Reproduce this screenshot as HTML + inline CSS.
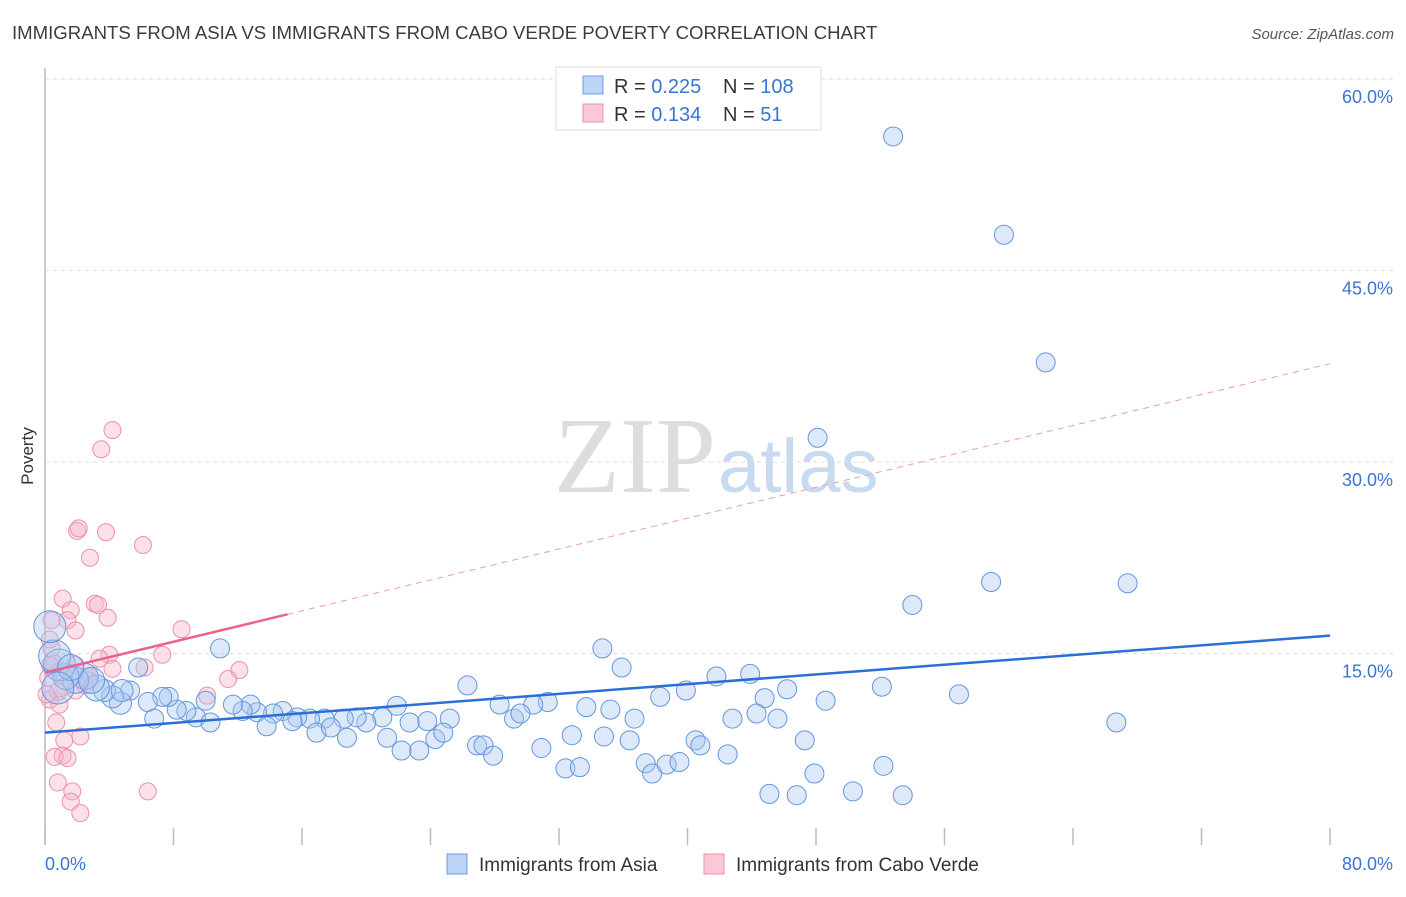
<!DOCTYPE html>
<html><head><meta charset="utf-8"><style>
body{margin:0;background:#fff;font-family:"Liberation Sans",sans-serif;}
svg text{font-family:"Liberation Sans",sans-serif;}
</style></head><body>
<svg id="chart" width="1406" height="892" viewBox="0 0 1406 892" xmlns="http://www.w3.org/2000/svg">
<text x="12" y="39" font-size="18.6" fill="#3c3c3c">IMMIGRANTS FROM ASIA VS IMMIGRANTS FROM CABO VERDE POVERTY CORRELATION CHART</text>
<text x="1394" y="39" font-size="15" fill="#555" text-anchor="end" font-style="italic">Source: ZipAtlas.com</text>
<text x="716" y="492" font-size="108" text-anchor="end" fill="#ddd" style="font-family:'Liberation Serif',serif">ZIP</text>
<text x="718" y="492" font-size="76" fill="#c8daf0">atlas</text>
<g id="grid"></g>
<g id="pinkpts"></g>
<g id="bluepts"></g>
<g id="trends"></g>
<text transform="translate(33,456) rotate(-90)" font-size="17" fill="#333" text-anchor="middle">Poverty</text>
<g>
<rect x="556" y="67" width="265" height="63" fill="#fff" stroke="#ddd"/>
<rect x="583" y="76" width="20" height="18" fill="#bcd4f5" stroke="#6d9de0"/>
<rect x="583" y="104" width="20" height="18" fill="#fbc9d6" stroke="#ec90aa"/>
<text x="614" y="93" font-size="20" fill="#333">R = <tspan fill="#3a74d4">0.225</tspan></text>
<text x="723" y="93" font-size="20" fill="#333">N = <tspan fill="#3a74d4">108</tspan></text>
<text x="614" y="121" font-size="20" fill="#333">R = <tspan fill="#3a74d4"> 0.134</tspan></text>
<text x="723" y="121" font-size="20" fill="#333">N = <tspan fill="#3a74d4">  51</tspan></text>
</g>
<g>
<rect x="447" y="854" width="20" height="20" fill="#bcd4f5" stroke="#6d9de0"/>
<text x="479" y="871" font-size="19" fill="#333">Immigrants from Asia</text>
<rect x="704" y="854" width="20" height="20" fill="#fbc9d6" stroke="#ec90aa"/>
<text x="736" y="871" font-size="19" fill="#333">Immigrants from Cabo Verde</text>
</g>
</svg>
<script>
const blueX=[52.8,59.7,62.3,48.1,58.9,67.4,54.0,34.7,35.9,43.9,41.8,52.1,46.2,39.9,56.9,38.3,44.8,48.6,66.7,42.8,44.3,45.6,36.7,35.2,33.7,31.3,30.4,28.3,26.3,25.2,23.8,21.9,22.7,21.0,20.0,19.4,18.6,17.4,16.5,15.7,14.8,14.2,13.2,12.8,12.3,11.7,10.9,10.0,9.4,8.8,8.2,7.7,7.3,6.4,5.8,5.3,4.7,4.2,3.7,3.2,2.5,1.9,1.3,0.9,0.6,0.3,6.8,10.3,13.8,15.4,16.9,17.8,18.8,21.3,22.2,23.3,24.3,24.8,26.9,27.3,27.9,29.2,29.6,30.9,32.4,33.3,32.8,34.8,36.4,37.4,37.8,38.7,39.5,40.5,40.8,42.5,47.3,47.9,45.1,46.8,50.3,52.2,53.4,2.9,4.8,1.6,0.8];
const blueY=[55.5,47.8,37.8,31.9,20.6,20.5,18.8,15.4,13.9,13.4,13.2,12.4,12.2,12.1,11.8,11.6,11.5,11.3,9.6,9.9,10.3,9.9,9.9,10.6,10.8,11.2,11.0,11.0,12.5,9.9,9.7,10.9,9.6,10.0,9.6,10.0,9.9,9.9,9.9,10.0,10.5,10.3,10.4,11.0,10.5,11.0,15.4,11.3,10.0,10.5,10.6,11.6,11.6,11.2,13.9,12.1,11.1,11.6,12.1,12.3,13.2,12.9,13.2,14.1,14.8,17.1,9.9,9.6,9.3,9.7,8.8,9.2,8.4,8.4,7.4,7.4,8.3,8.8,7.8,7.8,7.0,9.9,10.3,7.6,6.0,6.1,8.6,8.5,8.2,6.4,5.6,6.3,6.5,8.2,7.8,7.1,8.2,5.6,4.0,3.9,4.2,6.2,3.9,12.9,12.1,13.9,12.3];
const pinkX=[4.2,3.5,2.0,2.1,3.8,6.1,2.8,1.1,1.6,3.1,3.3,1.4,3.9,1.9,0.3,0.4,0.6,8.5,7.3,4.0,6.2,3.4,12.1,11.4,10.1,1.2,2.5,0.8,0.3,0.9,1.9,0.7,2.2,1.2,1.1,0.6,1.4,0.8,1.7,1.6,2.2,6.4,0.3,0.2,0.1,2.8,4.2,0.4,1.9,0.9,2.7];
const pinkY=[32.5,31.0,24.6,24.8,24.5,23.5,22.5,19.3,18.4,18.9,18.8,17.6,17.8,16.8,16.1,15.4,14.2,16.9,14.9,14.9,13.9,14.6,13.7,13.0,11.7,12.4,12.5,12.0,11.4,11.0,12.1,9.6,8.5,8.2,7.0,6.9,6.8,4.9,4.2,3.4,2.5,4.2,14.1,13.1,11.8,13.2,13.8,17.6,14.1,13.6,12.9];
const yTicks=[15,30,45,60];
const xTicks=[0,8,16,24,32,40,48,56,64,72,80];
const xTickLabels=["0.0%","80.0%"];
const blueTrend=[8.8,16.4];
const pinkTrend=[13.5,37.7];
const pinkSolidEnd=15.1;

const NS="http://www.w3.org/2000/svg";
const X0=45,X1=1330,Y0=845,Y1=79;
const sx=v=>X0+(X1-X0)*v/80;
const sy=v=>Y0-(Y0-Y1)*v/60;
function mk(tag,attrs,parent){const e=document.createElementNS(NS,tag);for(const k in attrs)e.setAttribute(k,attrs[k]);parent.appendChild(e);return e;}
const grid=document.getElementById('grid');
const yAxis=mk('line',{x1:X0,x2:X0,y1:68,y2:Y0,stroke:'#bbb','stroke-width':1.5},grid);


yTicks.forEach(t=>{
  const l=mk('line',{x1:X0,x2:1394,y1:sy(t),y2:sy(t),stroke:'#ddd','stroke-dasharray':'4,4'},grid);
  
  
  const tx=mk('text',{x:1393,y:sy(t)+24,'font-size':18,fill:'#3a74d4','text-anchor':'end'},grid);
  tx.textContent=t.toFixed(1)+'%';
  
  
});
xTicks.forEach(t=>{
  const l=mk('line',{x1:sx(t),x2:sx(t),y1:828,y2:Y0,stroke:'#bbb','stroke-width':1.5},grid);
  
  
});
const xl0=mk('text',{x:45,y:870,'font-size':18,fill:'#3a74d4'},grid);xl0.textContent=xTickLabels[0];


const xl1=mk('text',{x:1393,y:870,'font-size':18,fill:'#3a74d4','text-anchor':'end'},grid);xl1.textContent=xTickLabels[1];



const pg=document.getElementById('pinkpts');
pinkX.forEach((x,i)=>{
  const c=mk('circle',{cx:sx(x),cy:sy(pinkY[i]),r:8.5,fill:'rgba(248,180,200,0.4)',stroke:'#ec90aa','stroke-width':1},pg);
  
  
});
const bg=document.getElementById('bluepts');
blueX.forEach((x,i)=>{
  const r=x<1?16:(x<3.5?13:(x<5?11:9.5));
  const c=mk('circle',{cx:sx(x),cy:sy(blueY[i]),r:r,fill:'rgba(170,200,240,0.4)',stroke:'#6496de','stroke-width':1},bg);
  
  
});
const tg=document.getElementById('trends');
const bt=mk('line',{x1:sx(0),y1:sy(blueTrend[0]),x2:sx(80),y2:sy(blueTrend[1]),stroke:'#2a6fd6','stroke-width':2.5},tg);


const pEnd=pinkTrend[0]+(pinkTrend[1]-pinkTrend[0])*pinkSolidEnd/80;
const ps=mk('line',{x1:sx(0),y1:sy(pinkTrend[0]),x2:sx(pinkSolidEnd),y2:sy(pEnd),stroke:'#e8648c','stroke-width':2.5},tg);


const pd=mk('line',{x1:sx(pinkSolidEnd),y1:sy(pEnd),x2:sx(80),y2:sy(pinkTrend[1]),stroke:'#eb9ab3','stroke-width':1,'stroke-dasharray':'6,5'},tg);


</script>
</body></html>
